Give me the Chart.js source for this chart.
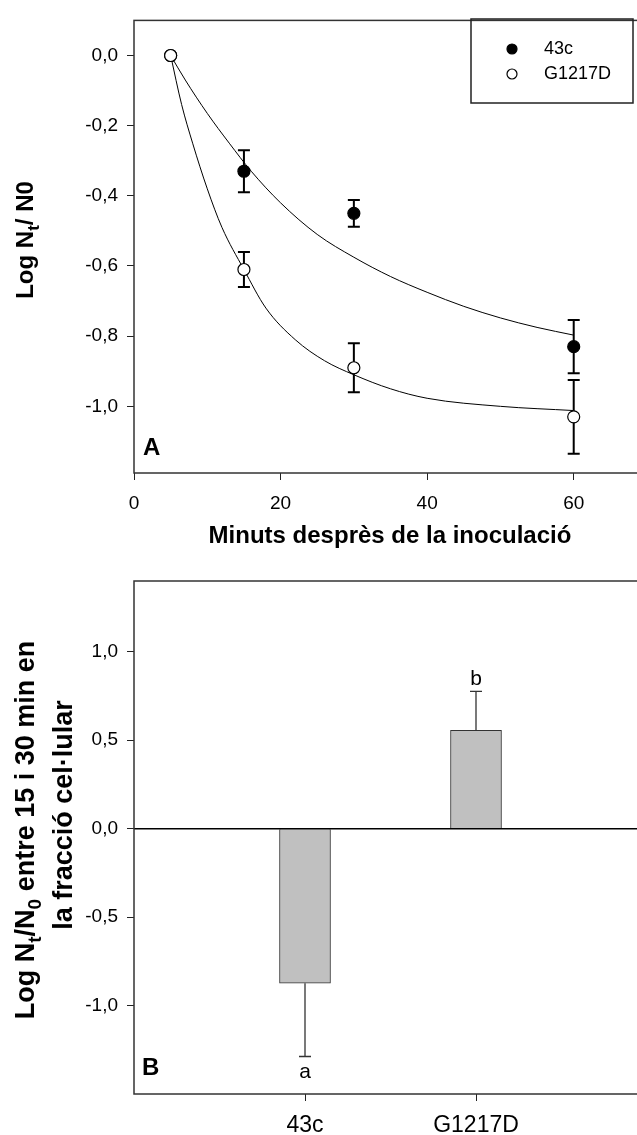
<!DOCTYPE html>
<html>
<head>
<meta charset="utf-8">
<script src="https://cdn.jsdelivr.net/npm/chart.js@4.4.0/dist/chart.umd.min.js"></script>
<style>
  html, body { margin: 0; padding: 0; background: #fff; overflow: hidden; }
  #wrapA { position: absolute; left: 0; top: 0; width: 680px; height: 570px; }
  #wrapB { position: absolute; left: 0; top: 545px; width: 680px; height: 590px; }
</style>
</head>
<body>
<div id="wrapA"><canvas id="chartA"></canvas></div>
<div id="wrapB"><canvas id="chartB"></canvas></div>
<script>
// Panel A - survival after inoculation
const minutes = [5, 15, 30, 60];
const val43c = [0, -0.33, -0.45, -0.83];
const err43c = [0, 0.06, 0.038, 0.076];
const valG1217D = [0, -0.61, -0.89, -1.03];
const errG1217D = [0, 0.05, 0.07, 0.105];

// fitted curves
const fitX43c = [5, 7, 10, 13, 16, 20, 25, 30, 35, 40, 45, 50, 55, 60];
const fitY43c = [0, -0.07, -0.165, -0.25, -0.33, -0.42, -0.51, -0.575, -0.63, -0.675, -0.715, -0.748, -0.775, -0.797];
const fitXG = [5, 6.5, 8, 10, 12, 15, 18, 22, 26, 30, 35, 40, 50, 60];
const fitYG = [0, -0.14, -0.25, -0.38, -0.49, -0.61, -0.72, -0.81, -0.87, -0.91, -0.95, -0.977, -1.0, -1.012];

const xTicksA = [0, 20, 40, 60];
const yTicksA = [0, -0.2, -0.4, -0.6, -0.8, -1.0];

// Panel B - change between 15 and 30 min
const strains = ["43c", "G1217D"];
const diffLog = [-0.874, 0.556];
const diffErr = [0.414, 0.22];
const groupLetters = ["a", "b"];
const yTicksB = [1.0, 0.5, 0, -0.5, -1.0];

const FONT = "'Liberation Sans', Arial, sans-serif";
const comma = (v) => v.toFixed(1).replace(".", ",");

// draws rotated text made of normal / subscript pieces, centred on cy
function drawRotated(ctx, x, cy, parts, size) {
  ctx.save();
  ctx.translate(x, cy);
  ctx.rotate(-Math.PI / 2);
  ctx.fillStyle = "#000";
  ctx.textBaseline = "alphabetic";
  ctx.textAlign = "left";
  let total = 0;
  parts.forEach((p) => {
    ctx.font = "bold " + (p.sub ? Math.round(size * 0.72) : size) + "px " + FONT;
    p.w = ctx.measureText(p.t).width;
    total += p.w;
  });
  let pos = -total / 2;
  parts.forEach((p) => {
    ctx.font = "bold " + (p.sub ? Math.round(size * 0.72) : size) + "px " + FONT;
    ctx.fillText(p.t, pos, p.sub ? size * 0.25 : 0);
    pos += p.w;
  });
  ctx.restore();
}

function frame(chart) {
  const { ctx, chartArea: a } = chart;
  ctx.save();
  ctx.strokeStyle = "#333";
  ctx.lineWidth = 1.5;
  ctx.strokeRect(a.left, a.top, a.right - a.left, a.bottom - a.top);
  ctx.restore();
}

const panelA = {
  id: "panelA",
  beforeDatasetsDraw(chart) {
    const { ctx } = chart;
    const xs = chart.scales.x, ys = chart.scales.y;
    ctx.save();
    ctx.strokeStyle = "#000";
    ctx.lineWidth = 2;
    [[val43c, err43c], [valG1217D, errG1217D]].forEach(([vals, errs]) => {
      minutes.forEach((m, i) => {
        if (!errs[i]) return;
        const px = xs.getPixelForValue(m);
        const y1 = ys.getPixelForValue(vals[i] + errs[i]);
        const y2 = ys.getPixelForValue(vals[i] - errs[i]);
        ctx.beginPath();
        ctx.moveTo(px, y1); ctx.lineTo(px, y2);
        ctx.moveTo(px - 6, y1); ctx.lineTo(px + 6, y1);
        ctx.moveTo(px - 6, y2); ctx.lineTo(px + 6, y2);
        ctx.stroke();
      });
    });
    ctx.restore();
  },
  afterDraw(chart) {
    const { ctx } = chart;
    frame(chart);
    ctx.save();
    // legend box
    ctx.strokeStyle = "#222";
    ctx.lineWidth = 1.5;
    ctx.strokeRect(471, 19, 162, 84);
    const ds = chart.data.datasets;
    [1, 0].forEach((k, row) => {
      const y = 49 + row * 25;
      ctx.beginPath();
      ctx.arc(512, y, 5, 0, Math.PI * 2);
      ctx.fillStyle = ds[k].backgroundColor;
      ctx.fill();
      ctx.lineWidth = 1.2;
      ctx.strokeStyle = "#000";
      ctx.stroke();
      ctx.fillStyle = "#000";
      ctx.font = "18px " + FONT;
      ctx.textBaseline = "middle";
      ctx.textAlign = "left";
      ctx.fillText(ds[k].label, 544, y);
    });
    // panel letter
    ctx.font = "bold 24px " + FONT;
    ctx.textBaseline = "alphabetic";
    ctx.fillText("A", 143, 455);
    // axis titles
    ctx.textAlign = "center";
    ctx.fillText("Minuts desprès de la inoculació", 390, 543);
    ctx.restore();
    drawRotated(ctx, 33, 240, [{ t: "Log N" }, { t: "t", sub: true }, { t: "/ N0" }], 24);
  }
};

const panelB = {
  id: "panelB",
  afterDatasetsDraw(chart) {
    const { ctx, chartArea: a } = chart;
    const xs = chart.scales.x, ys = chart.scales.y;
    ctx.save();
    // zero line
    const y0 = ys.getPixelForValue(0);
    ctx.strokeStyle = "#000";
    ctx.lineWidth = 1.5;
    ctx.beginPath();
    ctx.moveTo(a.left, y0); ctx.lineTo(a.right, y0);
    ctx.stroke();
    // one-sided error bars and letters
    ctx.strokeStyle = "#333";
    ctx.lineWidth = 1.3;
    ctx.fillStyle = "#000";
    ctx.font = "21px " + FONT;
    ctx.textAlign = "center";
    ctx.textBaseline = "middle";
    strains.forEach((s, i) => {
      const px = xs.getPixelForValue(i + 1);
      const dir = diffLog[i] < 0 ? -1 : 1;
      const yBar = ys.getPixelForValue(diffLog[i]);
      const yEnd = ys.getPixelForValue(diffLog[i] + dir * diffErr[i]);
      ctx.beginPath();
      ctx.moveTo(px, yBar); ctx.lineTo(px, yEnd);
      ctx.moveTo(px - 6, yEnd); ctx.lineTo(px + 6, yEnd);
      ctx.stroke();
      ctx.fillText(groupLetters[i], px, dir < 0 ? yEnd + 16 : yEnd - 12);
    });
    ctx.restore();
  },
  afterDraw(chart) {
    const { ctx } = chart;
    frame(chart);
    ctx.save();
    ctx.fillStyle = "#000";
    ctx.font = "bold 24px " + FONT;
    ctx.textBaseline = "alphabetic";
    ctx.fillText("B", 142, 530);
    ctx.restore();
    drawRotated(ctx, 34, 285, [{ t: "Log N" }, { t: "t", sub: true }, { t: "/N" }, { t: "0", sub: true }, { t: " entre 15 i 30 min en" }], 27);
    drawRotated(ctx, 72, 270, [{ t: "la fracció cel·lular" }], 27);
  }
};

const tickGrid = { drawOnChartArea: false, drawTicks: true, tickLength: 7, color: "#222", lineWidth: 1, offset: false };

window.addEventListener("load", function () {
  new Chart(document.getElementById("chartA"), {
    type: "scatter",
    data: {
      datasets: [
        {
          label: "G1217D",
          data: minutes.map((m, i) => ({ x: m, y: valG1217D[i] })),
          backgroundColor: "#fff",
          borderColor: "#000",
          pointRadius: 6,
          borderWidth: 1.2
        },
        {
          label: "43c",
          data: minutes.map((m, i) => ({ x: m, y: val43c[i] })),
          backgroundColor: "#000",
          borderColor: "#000",
          pointRadius: 6,
          borderWidth: 1.2
        },
        {
          type: "line",
          label: "fit 43c",
          data: fitX43c.map((x, i) => ({ x: x, y: fitY43c[i] })),
          borderColor: "#000",
          borderWidth: 1,
          pointRadius: 0,
          cubicInterpolationMode: "monotone",
          fill: false
        },
        {
          type: "line",
          label: "fit G1217D",
          data: fitXG.map((x, i) => ({ x: x, y: fitYG[i] })),
          borderColor: "#000",
          borderWidth: 1,
          pointRadius: 0,
          cubicInterpolationMode: "monotone",
          fill: false
        }
      ]
    },
    options: {
      responsive: true,
      maintainAspectRatio: false,
      animation: false,
      devicePixelRatio: 1,
      layout: { padding: { top: 11, right: 33, left: 0, bottom: 0 } },
      plugins: { legend: { display: false }, tooltip: { enabled: false } },
      scales: {
        x: {
          type: "linear",
          min: 0,
          max: 70,
          afterBuildTicks: (s) => { s.ticks = xTicksA.map((v) => ({ value: v })); },
          afterFit: (s) => { s.height = 97; },
          ticks: { color: "#000", font: { size: 19, family: FONT }, padding: 12, maxRotation: 0 },
          grid: tickGrid,
          border: { display: false }
        },
        y: {
          min: -1.19,
          max: 0.1,
          afterBuildTicks: (s) => { s.ticks = yTicksA.map((v) => ({ value: v })); },
          afterFit: (s) => { s.width = 134; },
          ticks: { color: "#000", font: { size: 19, family: FONT }, padding: 9, callback: (v) => comma(v) },
          grid: tickGrid,
          border: { display: false }
        }
      }
    },
    plugins: [panelA]
  });

  new Chart(document.getElementById("chartB"), {
    type: "bar",
    data: {
      datasets: [
        {
          label: "Log Nt/N0",
          data: strains.map((s, i) => ({ x: i + 1, y: diffLog[i] })),
          backgroundColor: "#c0c0c0",
          borderColor: "#333",
          borderWidth: 1,
          barThickness: 51
        }
      ]
    },
    options: {
      responsive: true,
      maintainAspectRatio: false,
      animation: false,
      devicePixelRatio: 1,
      layout: { padding: { top: 36, right: 33, left: 0, bottom: 0 } },
      plugins: { legend: { display: false }, tooltip: { enabled: false } },
      scales: {
        x: {
          type: "linear",
          min: 0,
          max: 3,
          offset: false,
          afterBuildTicks: (s) => { s.ticks = strains.map((c, i) => ({ value: i + 1 })); },
          afterFit: (s) => { s.height = 41; },
          ticks: { color: "#000", font: { size: 23, family: FONT }, padding: 11, maxRotation: 0, callback: (v) => strains[v - 1] },
          grid: tickGrid,
          border: { display: false }
        },
        y: {
          min: -1.5,
          max: 1.4,
          afterBuildTicks: (s) => { s.ticks = yTicksB.map((v) => ({ value: v })); },
          afterFit: (s) => { s.width = 134; },
          ticks: { color: "#000", font: { size: 19, family: FONT }, padding: 9, callback: (v) => comma(v) },
          grid: tickGrid,
          border: { display: false }
        }
      }
    },
    plugins: [panelB]
  });
});
</script>
</body>
</html>
